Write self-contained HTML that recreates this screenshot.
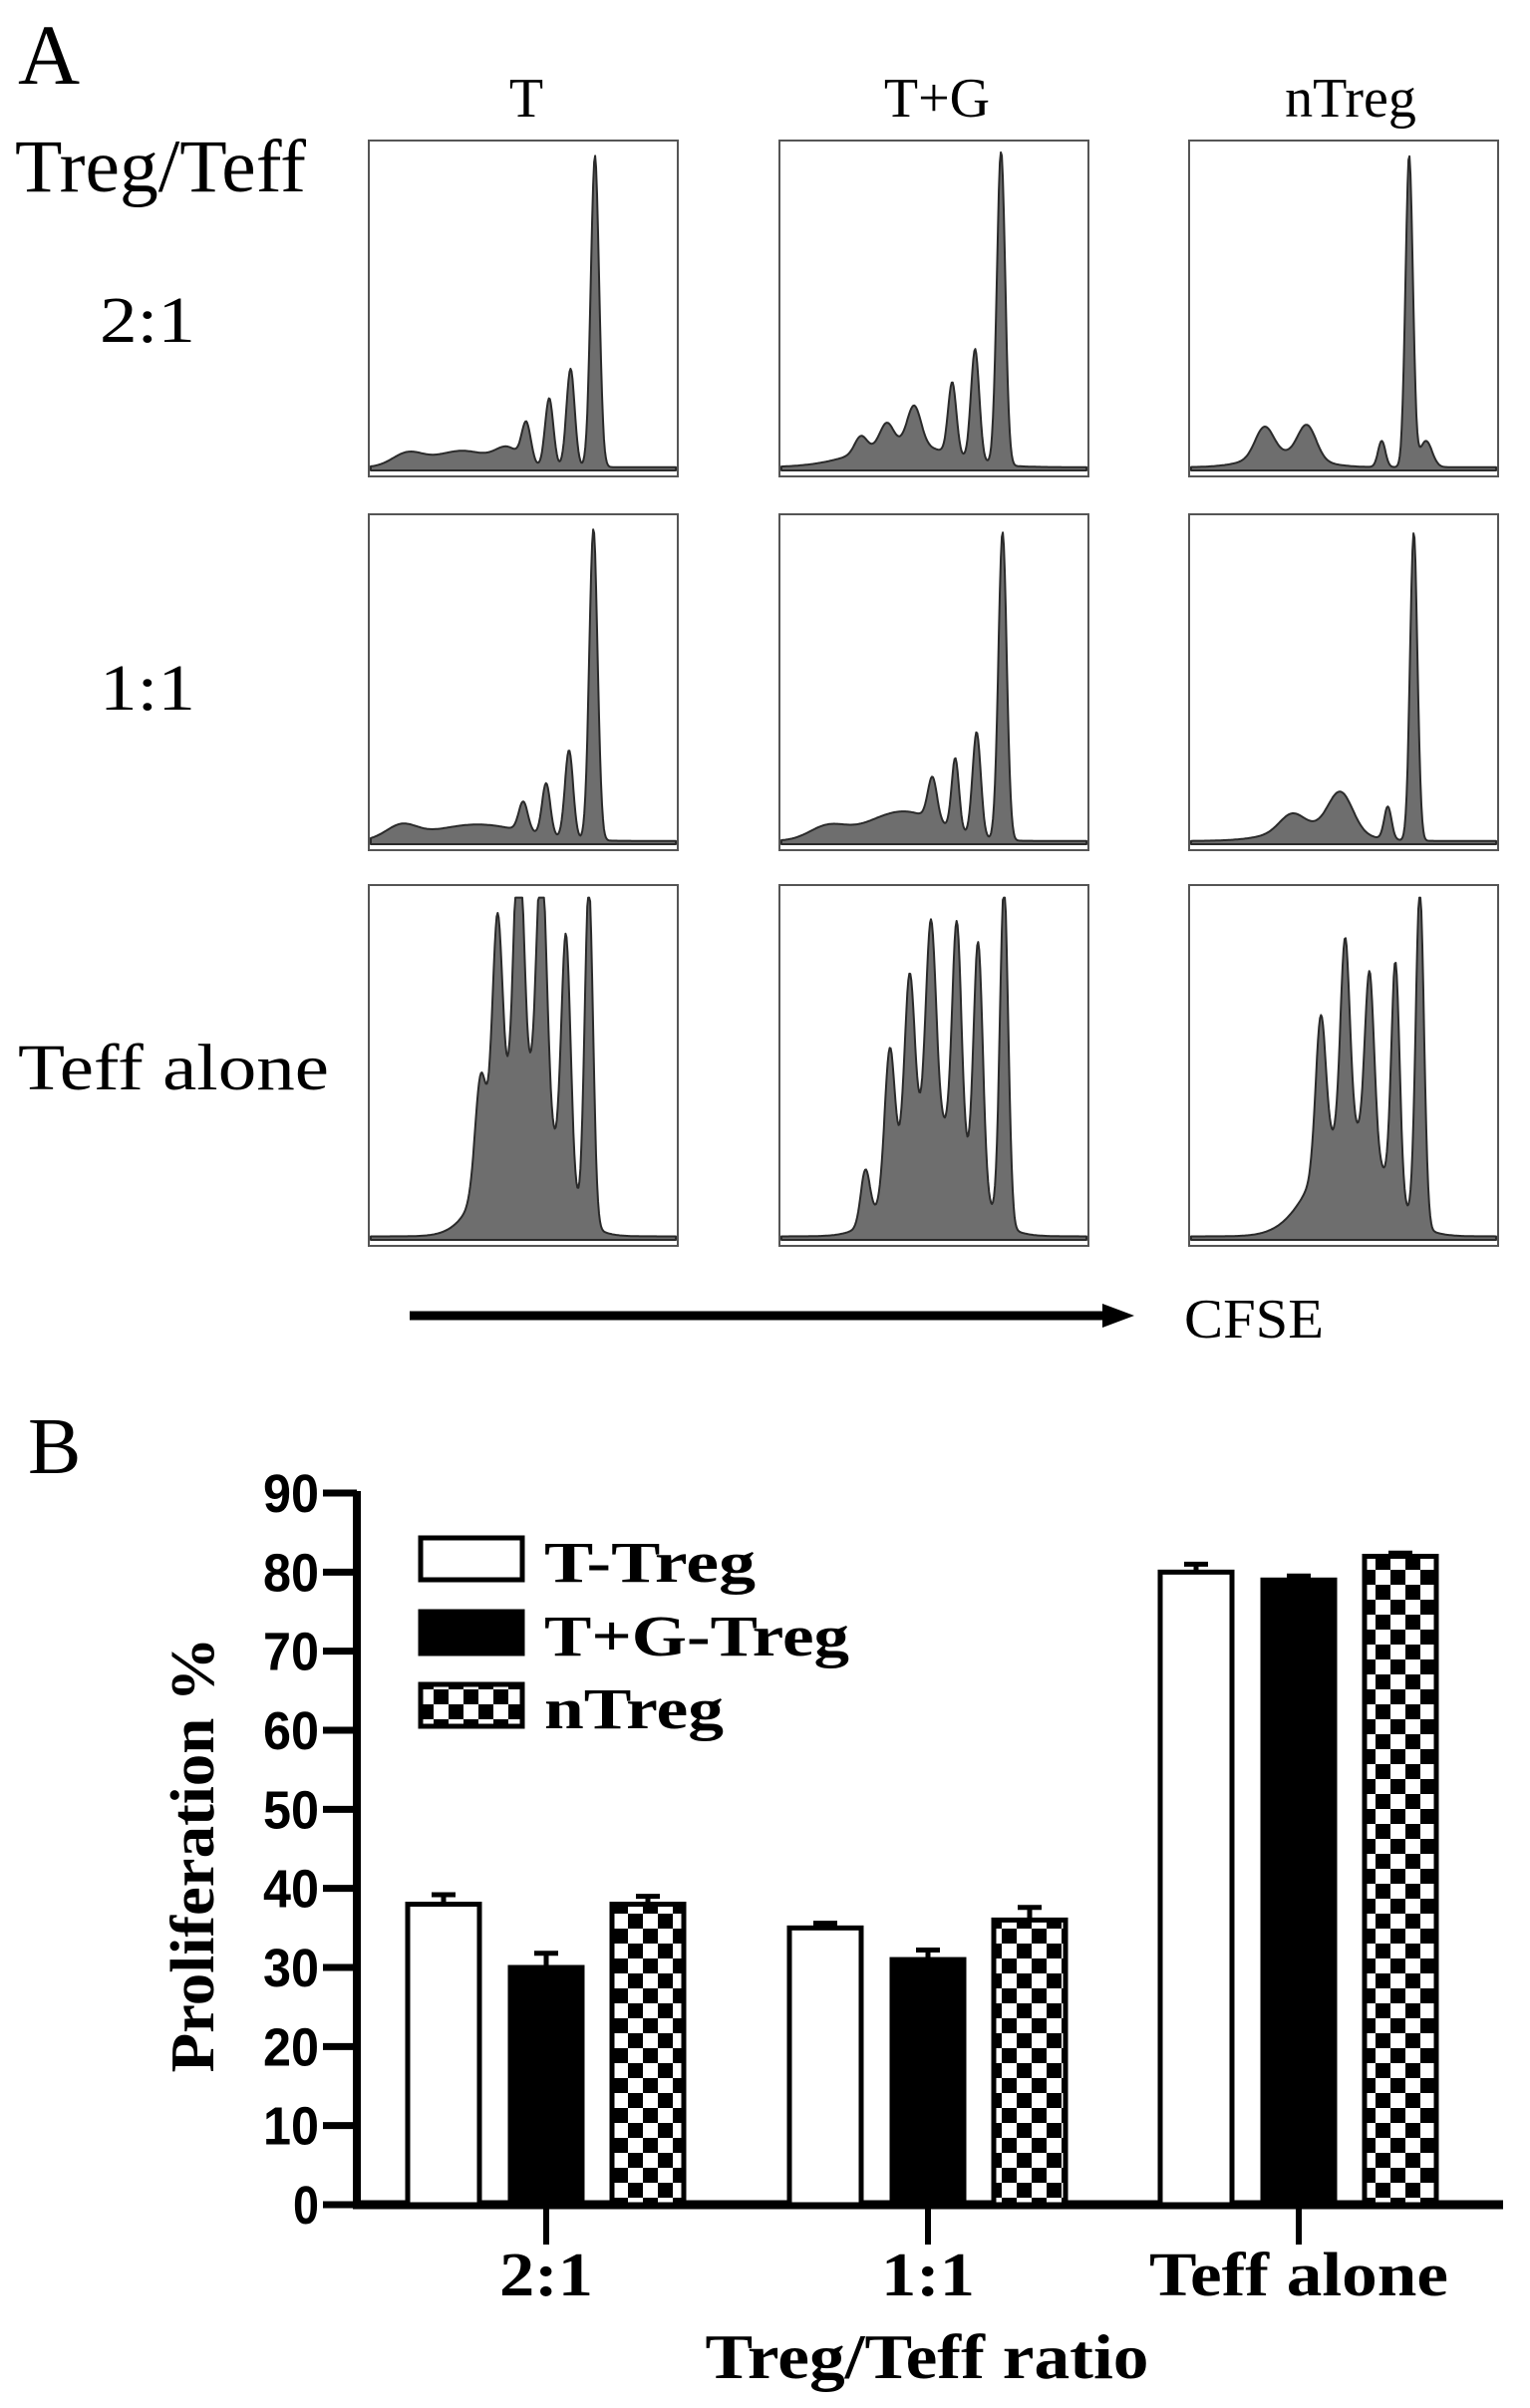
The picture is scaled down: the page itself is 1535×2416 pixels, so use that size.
<!DOCTYPE html>
<html><head><meta charset="utf-8"><title>Treg suppression figure</title>
<style>html,body{margin:0;padding:0;background:#fff}svg{display:block}</style></head>
<body>
<svg id="fig" width="1535" height="2416" viewBox="0 0 1535 2416" xmlns="http://www.w3.org/2000/svg">
<defs>
<pattern id="chk" width="30" height="30" patternUnits="userSpaceOnUse">
<rect width="30" height="30" fill="#fff"/><rect x="0" y="0" width="15" height="15" fill="#000"/><rect x="15" y="15" width="15" height="15" fill="#000"/>
</pattern>
</defs>
<g id="panelA"></g>
<g id="panelB"></g>
</svg>
<script>
// ---------- Panel A data ----------
const colTitles = ["T", "T+G", "nTreg"];
const rowLabels = ["2:1", "1:1", "Teff alone"];
// peaks per histogram: [position (fraction of width), height (fraction), spread]
const peaksR1C1 = [[0.735,0.95,0.009],[0.655,0.30,0.009],[0.585,0.21,0.009],[0.51,0.12,0.01],[0.45,0.05,0.04],[0.30,0.05,0.09],[0.12,0.04,0.05]];
const peaksR1C2 = [[0.72,0.96,0.009],[0.635,0.34,0.009],[0.56,0.22,0.009],[0.435,0.12,0.015],[0.345,0.07,0.015],[0.26,0.05,0.02],[0.40,0.07,0.15]];
const peaksR1C3 = [[0.715,0.95,0.008],[0.625,0.08,0.008],[0.77,0.08,0.02],[0.38,0.10,0.03],[0.24,0.09,0.03],[0.30,0.04,0.1]];
const peaksR2C1 = [[0.73,0.95,0.009],[0.65,0.27,0.009],[0.575,0.16,0.009],[0.50,0.09,0.01],[0.35,0.05,0.15],[0.10,0.04,0.05]];
const peaksR2C2 = [[0.725,0.94,0.009],[0.64,0.32,0.009],[0.57,0.22,0.008],[0.495,0.13,0.01],[0.40,0.09,0.12],[0.15,0.04,0.06]];
const peaksR2C3 = [[0.73,0.94,0.008],[0.645,0.10,0.008],[0.49,0.12,0.04],[0.33,0.05,0.04],[0.40,0.04,0.12]];
const peaksR3C1 = [[0.715,0.96,0.009],[0.64,0.70,0.01],[0.56,0.74,0.011],[0.485,0.74,0.011],[0.415,0.62,0.011],[0.36,0.30,0.012],[0.50,0.42,0.10]];
const peaksR3C2 = [[0.73,0.96,0.009],[0.645,0.70,0.01],[0.575,0.64,0.01],[0.49,0.58,0.011],[0.42,0.50,0.011],[0.355,0.40,0.011],[0.275,0.15,0.01],[0.50,0.32,0.11]];
const peaksR3C3 = [[0.75,0.95,0.009],[0.67,0.66,0.009],[0.585,0.50,0.01],[0.505,0.55,0.01],[0.425,0.42,0.011],[0.52,0.30,0.11]];
const histData = [[peaksR1C1,peaksR1C2,peaksR1C3],[peaksR2C1,peaksR2C2,peaksR2C3],[peaksR3C1,peaksR3C2,peaksR3C3]];

// ---------- Panel B data ----------
const categories = ["2:1", "1:1", "Teff alone"];
const seriesNames = ["T-Treg", "T+G-Treg", "nTreg"];
const valsTTreg = [38, 35, 80];
const valsTGTreg = [30, 31, 79];
const valsNTreg = [38, 36, 82];
const errTTreg = [1.2, 0.6, 1.0];
const errTGTreg = [1.8, 1.2, 0.5];
const errNTreg = [1.0, 1.6, 0.4];
const yTicks = [0,10,20,30,40,50,60,70,80,90];

const NS = "http://www.w3.org/2000/svg";
function mk(tag, attrs, parent){const e=document.createElementNS(NS,tag);for(const k in attrs)e.setAttribute(k,attrs[k]);parent.appendChild(e);return e;}

// ---------- Draw Panel A ----------
const A = document.getElementById("panelA");
const serif = "'Liberation Serif', serif";
let t = mk("text",{x:18,y:84,"font-family":serif,"font-size":86},A); t.textContent="A";


t = mk("text",{x:15,y:192,"font-family":serif,"font-size":75,textLength:292,lengthAdjust:"spacingAndGlyphs"},A); t.textContent="Treg/Teff";



const colX = [370, 782, 1193], boxW = 310;
const rowY = [141, 516, 888], rowH = [337, 337, 362];
const titleCX = [528, 940, 1355];
const rowLabelPos = [[100,343,96],[100,712,96],[18,1093,312]];
colTitles.forEach((c,i)=>{
  const e = mk("text",{x:titleCX[i],y:117,"font-family":serif,"font-size":56,"text-anchor":"middle"},A); e.textContent=c;
  
  
});
rowLabels.forEach((r,i)=>{
  const p=rowLabelPos[i];
  const e = mk("text",{x:p[0],y:p[1],"font-family":serif,"font-size":66,textLength:p[2],lengthAdjust:"spacingAndGlyphs"},A); e.textContent=r;
  
  
});
histData.forEach((row,ri)=>{
  row.forEach((peaks,ci)=>{
    const x0=colX[ci], y0=rowY[ri], h=rowH[ri], yb=y0+h-6;
    const g = mk("g",{},A);
    
    
    const box = mk("rect",{x:x0,y:y0,width:boxW,height:h,fill:"#fff",stroke:"#555","stroke-width":2},g);
    
    
    let d = "M"+(x0+2)+","+yb;
    const N=310;
    for(let i=0;i<=N;i++){
      const f=i/N; let v=0.01;
      peaks.forEach(p=>{const s=p[2]<0.02?Math.max(p[2]*1.5,0.012):p[2]; v+=p[1]*Math.exp(-0.5*Math.pow((f-p[0])/s,2));});
      v=Math.min(v,0.97);
      d+=" L"+(x0+2+f*(boxW-4)).toFixed(1)+","+(yb-v*(h-8)).toFixed(1);
    }
    d+=" L"+(x0+boxW-2)+","+yb+" Z";
    const path = mk("path",{d:d,fill:"#6e6e6e",stroke:"#2a2a2a","stroke-width":2,"stroke-linejoin":"round"},g);
    
    
  });
});
const arr = mk("g",{},A);


mk("line",{x1:411,y1:1320,x2:1110,y2:1320,stroke:"#000","stroke-width":9},arr);
mk("polygon",{points:"1106,1308 1138,1320 1106,1332",fill:"#000"},arr);
t = mk("text",{x:1188,y:1342,"font-family":serif,"font-size":56,textLength:140,lengthAdjust:"spacingAndGlyphs"},A); t.textContent="CFSE";



// ---------- Draw Panel B ----------
const B = document.getElementById("panelB");
t = mk("text",{x:28,y:1478,"font-family":serif,"font-size":80},B); t.textContent="B";


const axX=358, y0px=2212, y90px=1498, xEnd=1508;
const yScale = v => y0px - (v/90)*(y0px-y90px);
const groupCX = [548, 931, 1303];
const barW = 72, barOff = [-103, 0, 102];
const sans = "'Liberation Sans Narrow','Liberation Sans',sans-serif";
const bserif = "'Liberation Serif',serif";

let e = mk("line",{x1:axX,y1:y90px-2,x2:axX,y2:y0px+4,stroke:"#000","stroke-width":8},B);


yTicks.forEach(v=>{
  const y=yScale(v);
  const tk = mk("line",{x1:324,y1:y,x2:axX,y2:y,stroke:"#000","stroke-width":7},B);
  
  
  const lb = mk("text",{x:320,y:y+19,"font-family":sans,"font-weight":"bold","font-size":54,"text-anchor":"end",textLength:v===0?26:56,lengthAdjust:"spacingAndGlyphs"},B);
  lb.textContent=String(v);
  
  
});
e = mk("line",{x1:axX-4,y1:y0px,x2:xEnd,y2:y0px,stroke:"#000","stroke-width":9},B);



const allVals=[valsTTreg,valsTGTreg,valsNTreg], allErr=[errTTreg,errTGTreg,errNTreg];
const fills=["#fff","#000","url(#chk)"];
categories.forEach((c,ci)=>{
  const cx=groupCX[ci];
  const tk = mk("line",{x1:cx,y1:y0px,x2:cx,y2:y0px+40,stroke:"#000","stroke-width":6},B);
  
  
  const lb = mk("text",{x:cx,y:2303,"font-family":bserif,"font-weight":"bold","font-size":62,"text-anchor":"middle",textLength:ci===2?300:94,lengthAdjust:"spacingAndGlyphs"},B);
  lb.textContent=c;
  
  
  allVals.forEach((vals,si)=>{
    const bx=cx+barOff[si]-barW/2, top=yScale(vals[ci]);
    const et=yScale(vals[ci]+allErr[si][ci]);
    const eg = mk("path",{d:"M"+(cx+barOff[si])+","+top+" V"+et+" M"+(cx+barOff[si]-12)+","+et+" H"+(cx+barOff[si]+12),stroke:"#000","stroke-width":5,fill:"none"},B);
    
    
    const r = mk("rect",{x:bx,y:top,width:barW,height:y0px-top,fill:fills[si],stroke:"#000","stroke-width":5},B);
    
    
  });
});
const legY=[1543,1617,1690];
seriesNames.forEach((n,si)=>{
  const g = mk("g",{},B);
  
  
  mk("rect",{x:422,y:legY[si],width:102,height:42,fill:fills[si],stroke:"#000","stroke-width":5},g);
  const lt = mk("text",{x:546,y:legY[si]+44,"font-family":bserif,"font-weight":"bold","font-size":58,textLength:[212,306,180][si],lengthAdjust:"spacingAndGlyphs"},g);
  lt.textContent=n;
});
t = mk("text",{x:0,y:0,"font-family":bserif,"font-weight":"bold","font-size":62,"text-anchor":"middle",textLength:437,lengthAdjust:"spacingAndGlyphs",transform:"translate(214,1861) rotate(-90)"},B);
t.textContent="Proliferation %";


t = mk("text",{x:930,y:2386,"font-family":bserif,"font-weight":"bold","font-size":64,"text-anchor":"middle",textLength:445,lengthAdjust:"spacingAndGlyphs"},B);
t.textContent="Treg/Teff ratio";


</script>
</body></html>
